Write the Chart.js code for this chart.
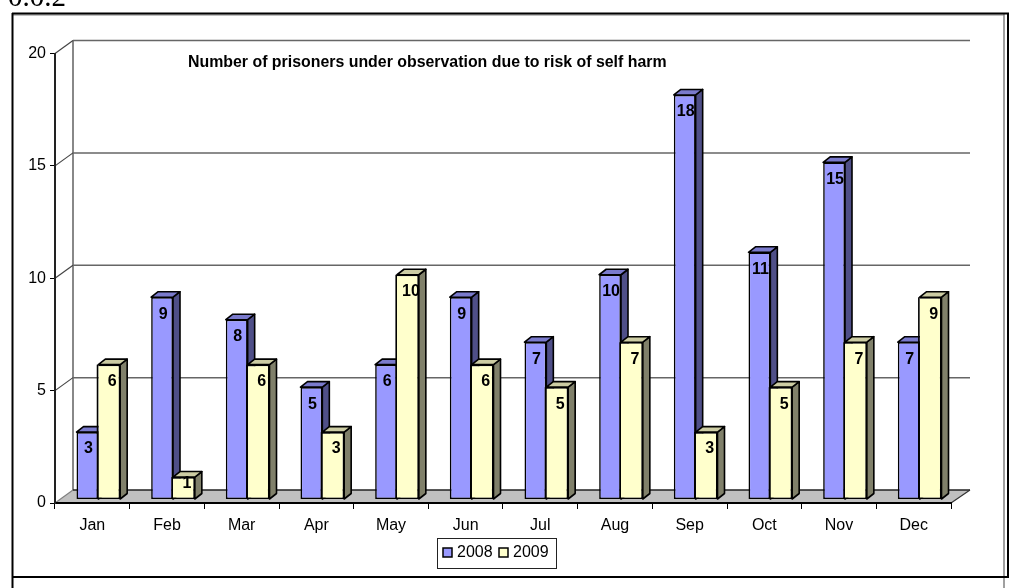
<!DOCTYPE html>
<html>
<head>
<meta charset="utf-8">
<title>Prisoners under observation</title>
<script src="https://cdn.jsdelivr.net/npm/chart.js@4"></script>
<style>
html, body { margin: 0; padding: 0; background: #fff; overflow: hidden; }
#box { position: absolute; left: 0; top: 0; width: 1010px; height: 588px; }
</style>
</head>
<body>
<div id="box"><canvas id="grafico" width="1010" height="588"></canvas></div>
<script>
// data
var meses = ["Jan", "Feb", "Mar", "Apr", "May", "Jun", "Jul", "Aug", "Sep", "Oct", "Nov", "Dec"];
var valores2008 = [3, 9, 8, 5, 6, 9, 7, 10, 18, 11, 15, 7];
var valores2009 = [6, 1, 6, 3, 10, 6, 5, 7, 3, 5, 7, 9];
var series = ["2008", "2009"];
var titulo = "Number of prisoners under observation due to risk of self harm";
var rotuloTopo = "0.0.2";

var FONTE = "'Liberation Sans', Arial, sans-serif";
var PROF_X = 18, PROF_Y = 13;      // depth of the walls
var BARRA_X = 6, BARRA_Y = 3.5;    // bars stand a bit inside the floor
var LADO_X = 7, LADO_Y = 5.5;      // depth of each bar
var cores = [
    { frente: "#9999FF", topo: "#7A7ACC", lado: "#4F4F88" },
    { frente: "#FFFFCC", topo: "#CCCCA3", lado: "#80806A" }
];

function poligono(ctx, pts, fill, stroke, lw) {
    ctx.beginPath();
    ctx.moveTo(pts[0][0], pts[0][1]);
    for (var i = 1; i < pts.length; i++) ctx.lineTo(pts[i][0], pts[i][1]);
    ctx.closePath();
    if (fill) { ctx.fillStyle = fill; ctx.fill(); }
    if (stroke) { ctx.strokeStyle = stroke; ctx.lineWidth = lw; ctx.lineJoin = "round"; ctx.stroke(); }
}

function linha(ctx, x1, y1, x2, y2, cor, lw) {
    ctx.beginPath();
    ctx.moveTo(x1, y1);
    ctx.lineTo(x2, y2);
    ctx.strokeStyle = cor;
    ctx.lineWidth = lw;
    ctx.stroke();
}

// page frame, floor and back wall
var paredes = {
    id: "paredes",
    beforeDraw: function (chart) {
        var ctx = chart.ctx, a = chart.chartArea, y = chart.scales.y;
        ctx.save();

        ctx.font = "29px 'Liberation Serif', 'Times New Roman', serif";
        ctx.fillStyle = "#000";
        ctx.textAlign = "left";
        ctx.textBaseline = "alphabetic";
        ctx.fillText(rotuloTopo, 8, 5.5);

        linha(ctx, 1004, 14, 1004, 588, "#808080", 1.5);
        linha(ctx, 12, 15, 1004, 15, "#808080", 1);
        linha(ctx, 12.5, 13, 12.5, 588, "#000", 2);
        linha(ctx, 12, 13.5, 1009, 13.5, "#000", 2);
        linha(ctx, 1008, 13, 1008, 578, "#000", 2);
        linha(ctx, 12, 577, 1009, 577, "#000", 2);

        poligono(ctx, [[a.left, a.bottom], [a.left + PROF_X, a.bottom - PROF_Y], [a.right + PROF_X + 1, a.bottom - PROF_Y], [a.right, a.bottom]], "#C0C0C0", null);
        linha(ctx, a.left + PROF_X, a.top - PROF_Y, a.left + PROF_X, a.bottom - PROF_Y, "#888", 2);

        y.ticks.forEach(function (t) {
            var py = y.getPixelForValue(t.value);
            linha(ctx, a.left, py, a.left + PROF_X, py - PROF_Y, t.value === 0 ? "#808080" : "#444", 1.2);
            linha(ctx, a.left + PROF_X, py - PROF_Y, a.right + PROF_X + 1, py - PROF_Y, t.value === 0 ? "#222" : "#666", 1.5);
        });
        linha(ctx, a.right, a.bottom, a.right + PROF_X + 1, a.bottom - PROF_Y, "#333", 1.2);
        ctx.restore();
    },
    beforeDatasetsDraw: function (chart) {
        var ctx = chart.ctx;
        ctx.save();
        ctx.translate(BARRA_X, -BARRA_Y);
        // side and top faces go under the fronts, the library paints those afterwards
        chart.data.datasets.forEach(function (ds, k) {
            chart.getDatasetMeta(k).data.forEach(function (b) {
                var p = b.getProps(["x", "y", "base", "width"], true);
                var e = p.x - p.width / 2, d = p.x + p.width / 2;
                poligono(ctx, [[d, p.y], [d + LADO_X, p.y - LADO_Y], [d + LADO_X, p.base - LADO_Y], [d, p.base]], cores[k].lado, "#000", 1.6);
                poligono(ctx, [[e, p.y], [e + LADO_X, p.y - LADO_Y], [d + LADO_X, p.y - LADO_Y], [d, p.y]], cores[k].topo, "#000", 1.6);
            });
        });
    },
    afterDatasetsDraw: function (chart) {
        var ctx = chart.ctx;
        // left edge of the 2009 bars, only the 2008 edge is drawn by the library
        chart.getDatasetMeta(1).data.forEach(function (b) {
            var p = b.getProps(["x", "y", "base", "width"], true);
            var e = p.x - p.width / 2 - 0.8;
            linha(ctx, e, p.y, e, p.base, "#000", 1.6);
        });
        ctx.textAlign = "center";
        ctx.textBaseline = "middle";
        ctx.fillStyle = "#000";
        ctx.font = "bold 16px " + FONTE;
        chart.data.datasets.forEach(function (ds, k) {
            chart.getDatasetMeta(k).data.forEach(function (b, i) {
                var p = b.getProps(["x", "y", "base"], true);
                var ty = Math.min(p.y + 17, p.base - 15);
                ctx.fillText(String(ds.data[i]), p.x + (k === 0 ? 1 : 3), ty);
            });
        });
        ctx.restore();

        // chart title, sits inside the plot
        ctx.save();
        ctx.fillStyle = "#000";
        ctx.textAlign = "left";
        ctx.textBaseline = "middle";
        ctx.font = "bold 15.9px " + FONTE;
        ctx.fillText(titulo, 188, 63);

        // legend
        ctx.strokeStyle = "#222";
        ctx.lineWidth = 1;
        ctx.strokeRect(437.5, 538.5, 119, 30);
        ctx.font = "16px " + FONTE;
        var posX = [443, 499];
        series.forEach(function (s, k) {
            ctx.fillStyle = cores[k].frente;
            ctx.fillRect(posX[k], 548, 9, 9);
            ctx.strokeStyle = "#000";
            ctx.lineWidth = 1.5;
            ctx.strokeRect(posX[k], 548, 9, 9);
            ctx.fillStyle = "#000";
            ctx.fillText(s, posX[k] + 14, 553);
        });
        ctx.restore();
    }
};

new Chart(document.getElementById("grafico"), {
    type: "bar",
    data: {
        labels: meses,
        datasets: [
            { label: series[0], data: valores2008, backgroundColor: cores[0].frente, borderColor: "#000", borderWidth: 1.6, borderSkipped: false, clip: false },
            { label: series[1], data: valores2009, backgroundColor: cores[1].frente, borderColor: "#000", borderWidth: { top: 1.6, right: 1.6, bottom: 1.6, left: 0 }, borderSkipped: false, clip: false }
        ]
    },
    plugins: [paredes],
    options: {
        responsive: false,
        animation: false,
        events: [],
        barPercentage: 1,
        categoryPercentage: 0.585,
        layout: { padding: { top: 53.5, right: 59, left: 0, bottom: 0 } },
        plugins: { legend: { display: false }, title: { display: false }, tooltip: { enabled: false } },
        scales: {
            x: {
                grid: { drawOnChartArea: false, drawTicks: true, tickLength: 6, tickColor: "#000", tickWidth: 1 },
                border: { color: "#000", width: 2 },
                ticks: { color: "#000", font: { family: FONTE, size: 16 }, padding: 7, maxRotation: 0, autoSkip: false },
                afterFit: function (s) { s.height = 85; }
            },
            y: {
                min: 0,
                max: 20,
                grid: { drawOnChartArea: false, tickLength: 5, tickColor: "#000", tickWidth: 1 },
                border: { color: "#222", width: 2 },
                ticks: { stepSize: 5, color: "#000", font: { family: FONTE, size: 16 }, padding: 4 },
                afterFit: function (s) { s.width = 55; }
            }
        }
    }
});
</script>
</body>
</html>
